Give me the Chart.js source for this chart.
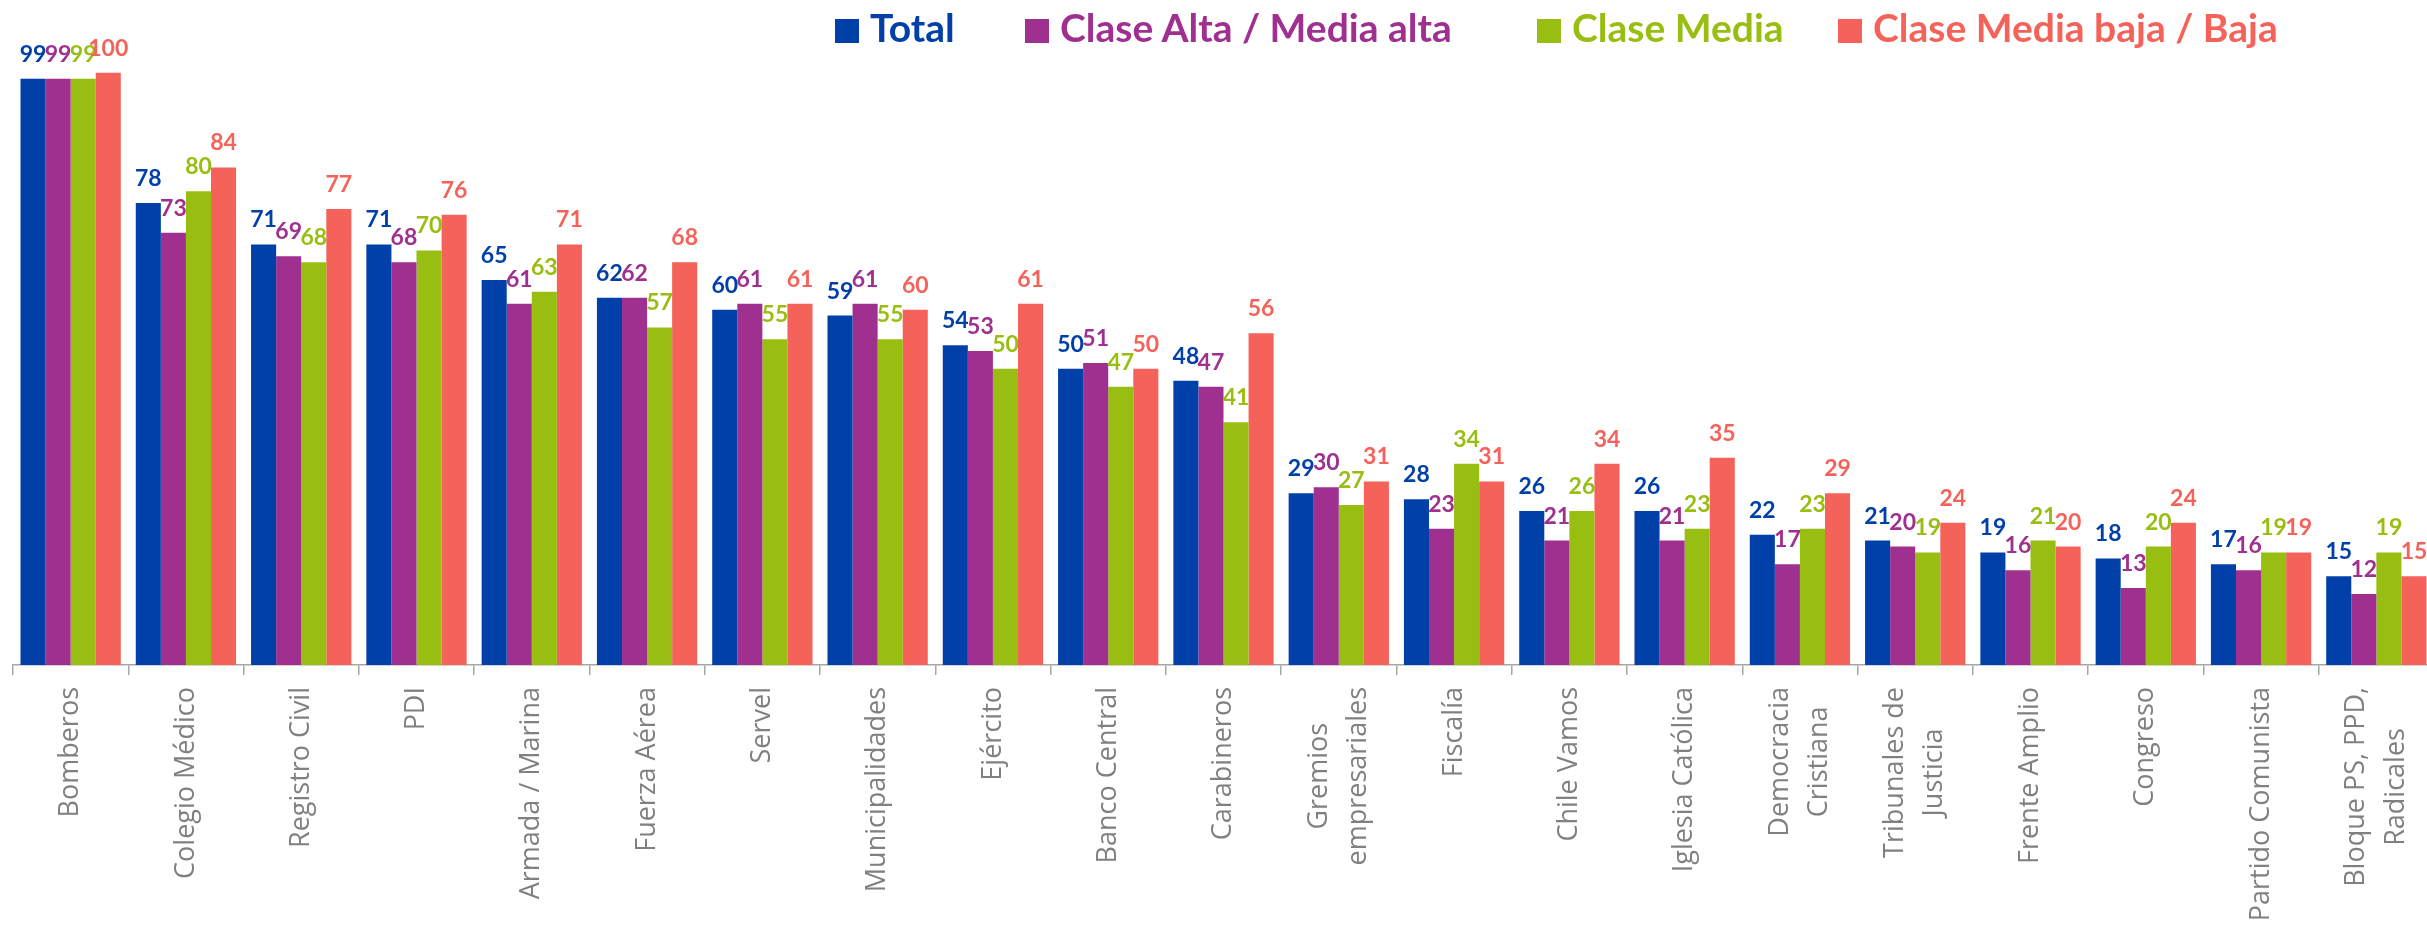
<!DOCTYPE html>
<html lang="es">
<head>
  <meta charset="UTF-8" />
  <title>Confianza en instituciones por clase social</title>
  <script src="https://cdn.jsdelivr.net/npm/chart.js"></script>
  <style>
    html, body {
      margin: 0;
      padding: 0;
      background: #fff;
      overflow: hidden;
    }
    #wrap {
      position: relative;
      width: 2440px;
      height: 927px;
    }
    #legend .sq {
      position: absolute;
      top: 19px;
      width: 24px;
      height: 24px;
    }
    #legend .txt {
      position: absolute;
      top: 8px;
      font-family: Lato, sans-serif;
      font-weight: bold;
      font-size: 39px;
      line-height: 1;
      white-space: nowrap;
    }
  </style>
</head>
<body>
  <div id="wrap">
    <canvas id="chart" width="2440" height="927"></canvas>
    <div id="legend"></div>
  </div>

  <script>
    const categories = [
      'Bomberos', 'Colegio Médico', 'Registro Civil', 'PDI', 'Armada / Marina',
      'Fuerza Aérea', 'Servel', 'Municipalidades', 'Ejército', 'Banco Central',
      'Carabineros', ['Gremios', 'empresariales'], 'Fiscalía', 'Chile Vamos',
      'Iglesia Católica', ['Democracia', 'Cristiana'], ['Tribunales de', 'Justicia'],
      'Frente Amplio', 'Congreso', 'Partido Comunista', ['Bloque PS, PPD,', 'Radicales']
    ];

    const seriesNames = ['Total', 'Clase Alta / Media alta', 'Clase Media', 'Clase Media baja / Baja'];
    const seriesColors = ['#0040A8', '#A0308F', '#97BE10', '#F5625A'];

    const total     = [99, 78, 71, 71, 65, 62, 60, 59, 54, 50, 48, 29, 28, 26, 26, 22, 21, 19, 18, 17, 15];
    const altaMedia = [99, 73, 69, 68, 61, 62, 61, 61, 53, 51, 47, 30, 23, 21, 21, 17, 20, 16, 13, 16, 12];
    const media     = [99, 80, 68, 70, 63, 57, 55, 55, 50, 47, 41, 27, 34, 26, 23, 23, 19, 21, 20, 19, 19];
    const mediaBaja = [100, 84, 77, 76, 71, 68, 61, 60, 61, 50, 56, 31, 31, 34, 35, 29, 24, 20, 24, 19, 15];

    const seriesValues = [total, altaMedia, media, mediaBaja];

    // legend drawn as html above the plot
    const legendLeft = [835, 1025, 1537, 1838];
    const legend = document.getElementById('legend');
    seriesNames.forEach((name, i) => {
      const sq = document.createElement('div');
      sq.className = 'sq';
      sq.style.left = legendLeft[i] + 'px';
      sq.style.background = seriesColors[i];
      const txt = document.createElement('div');
      txt.className = 'txt';
      txt.style.left = (legendLeft[i] + 35) + 'px';
      txt.style.color = seriesColors[i];
      txt.textContent = name;
      legend.appendChild(sq);
      legend.appendChild(txt);
    });

    // numbers above each bar
    const valueLabels = {
      id: 'valueLabels',
      afterDatasetsDraw(chart) {
        const ctx = chart.ctx;
        ctx.save();
        ctx.font = 'bold 23px Lato, sans-serif';
        ctx.textAlign = 'center';
        ctx.textBaseline = 'alphabetic';
        chart.data.datasets.forEach((ds, i) => {
          ctx.fillStyle = ds.backgroundColor;
          chart.getDatasetMeta(i).data.forEach((bar, j) => {
            ctx.fillText(ds.data[j], bar.x, bar.y - 17);
          });
        });
        ctx.restore();
      }
    };

    // two-line category labels: center the block on the tick and the lines on each other
    const centerMultiline = {
      id: 'centerMultiline',
      beforeDraw(chart) {
        const xs = chart.scales.x;
        const ctx = chart.ctx;
        xs.getLabelItems().forEach(item => {
          if (Array.isArray(item.label) && !item._centered) {
            ctx.save();
            ctx.font = item.font.string;
            const w = Math.max(...item.label.map(s => ctx.measureText(s).width));
            ctx.restore();
            item.options.translation[0] -= (item.label.length - 1) * item.font.lineHeight / 2;
            item.options.translation[1] += w / 2;
            item.options.textAlign = 'center';
            item._centered = true;
          }
        });
      }
    };

    const datasets = seriesNames.map((name, i) => ({
      label: name,
      data: seriesValues[i],
      backgroundColor: seriesColors[i],
      borderWidth: 0,
      categoryPercentage: 0.87,
      barPercentage: 1.0
    }));

    new Chart(document.getElementById('chart').getContext('2d'), {
      type: 'bar',
      data: { labels: categories, datasets },
      plugins: [valueLabels, centerMultiline],
      options: {
        responsive: false,
        animation: false,
        layout: { padding: { top: 13.5, left: 13, right: 6, bottom: 0 } },
        plugins: {
          legend: { display: false },
          tooltip: { enabled: false }
        },
        scales: {
          x: {
            afterFit(scale) {
              scale.height = 262;
              scale.paddingLeft = 0;
              scale.paddingRight = 0;
            },
            grid: {
              offset: true,
              drawOnChartArea: false,
              tickLength: 10,
              color: '#a6a6a6',
              lineWidth: 1.5
            },
            border: { color: '#a6a6a6', width: 1.5 },
            ticks: {
              autoSkip: false,
              minRotation: 90,
              maxRotation: 90,
              padding: 12,
              color: '#808080',
              font: { family: "'Open Sans', sans-serif", size: 27, lineHeight: 1.45 }
            }
          },
          y: {
            display: false,
            min: 0,
            max: 110
          }
        }
      }
    });
  </script>
</body>
</html>
